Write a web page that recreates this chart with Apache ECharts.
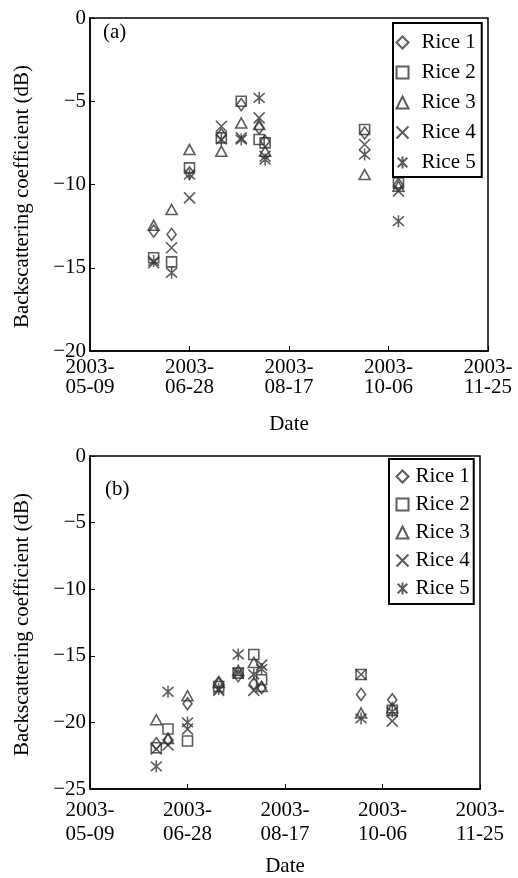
<!DOCTYPE html>
<html>
<head>
<meta charset="utf-8">
<script src="https://cdn.jsdelivr.net/npm/echarts@6/dist/echarts.min.js"></script>
<style>
  html, body { margin: 0; padding: 0; background: #fff; }
  #chart { width: 518px; height: 878px; }
</style>
</head>
<body>
<div id="chart"></div>
<script>
// acquisition dates, panel (a) and panel (b)
const datesA = ['2003-06-10', '2003-06-19', '2003-06-28', '2003-07-14', '2003-07-24', '2003-08-02', '2003-08-05', '2003-09-24', '2003-10-11'];
const datesB = ['2003-06-12', '2003-06-18', '2003-06-28', '2003-07-14', '2003-07-24', '2003-08-01', '2003-08-05', '2003-09-25', '2003-10-11'];

const riceNames = ['Rice 1', 'Rice 2', 'Rice 3', 'Rice 4', 'Rice 5'];

// panel (a), dB
const a1 = [-12.8, -13.0, -9.3, -7.0, -5.2, -6.6, -7.4, -6.9, -10.0];
const a2 = [-14.4, -14.65, -9.0, -7.2, -5.0, -7.3, -7.5, -6.7, -9.9];
const a3 = [-12.45, -11.5, -7.9, -8.0, -6.3, -6.4, -8.0, -9.4, -10.1];
const a4 = [-14.7, -13.8, -10.8, -6.5, -7.2, -6.0, -8.3, -7.6, -10.4];
const a5 = [-14.6, -15.3, -9.4, -7.3, -7.3, -4.8, -8.5, -8.2, -12.2];

// panel (b), dB
const b1 = [-21.6, -21.3, -18.6, -17.0, -16.5, -17.1, -17.4, -17.9, -18.3];
const b2 = [-21.9, -20.5, -21.4, -17.3, -16.3, -14.9, -16.8, -16.4, -19.1];
const b3 = [-19.8, -21.2, -18.0, -17.0, -16.1, -15.5, -17.3, -19.3, -18.9];
const b4 = [-22.0, -21.7, -20.5, -17.6, -16.3, -17.6, -15.7, -16.4, -19.9];
const b5 = [-23.3, -17.7, -20.0, -17.5, -14.9, -16.4, -16.0, -19.7, -19.2];

const yTicksA = [-20, 0, 5];
const yTicksB = [-25, 0, 5];
const xTicks = [0, 200, 50]; // days after 2003-05-09

const ink = '#333';
const serif = 'Liberation Serif';
const fs = 21;
const base = Date.UTC(2003, 4, 9);
const DAY = 86400000;

function dayOf(s) {
  const p = s.split('-');
  return Math.round((Date.UTC(+p[0], +p[1] - 1, +p[2]) - base) / DAY);
}

function dateLabel(v) {
  const d = new Date(base + v * DAY);
  const mm = String(d.getUTCMonth() + 1).padStart(2, '0');
  const dd = String(d.getUTCDate()).padStart(2, '0');
  return d.getUTCFullYear() + '-\n' + mm + '-' + dd;
}

const markers = [
  {symbol: 'diamond', size: [9, 12]},
  {symbol: 'rect', size: [10, 10]},
  {symbol: 'triangle', size: [11, 10]},
  {symbol: 'path://M0,0L10,10M10,0L0,10', size: [11, 11]},
  {symbol: 'path://M1,1L9,9M9,1L1,9M5,0L5,10', size: [11, 12]}
];

function makeSeries(dates, lists, idx) {
  return lists.map((vals, i) => ({
    name: riceNames[i],
    type: 'scatter',
    xAxisIndex: idx,
    yAxisIndex: idx,
    symbol: markers[i].symbol,
    symbolSize: markers[i].size,
    itemStyle: {color: 'none', borderColor: ink, borderWidth: 1.6},
    emphasis: {disabled: true},
    data: dates.map((d, k) => [dayOf(d), vals[k]])
  }));
}

function yAxis(idx, ticks, namePad) {
  return {
    type: 'value',
    gridIndex: idx,
    min: ticks[0], max: ticks[1], interval: ticks[2],
    name: 'Backscattering coefficient (dB)',
    nameLocation: 'middle',
    nameGap: 57,
    nameTextStyle: {fontFamily: serif, fontSize: fs, color: '#000', padding: namePad},
    axisLine: {show: true, onZero: false, lineStyle: {color: '#000', width: 1.5}},
    axisTick: {show: true, inside: true, length: 5, lineStyle: {color: '#000'}},
    axisLabel: {
      fontFamily: serif, fontSize: fs, color: '#000', margin: 4,
      formatter: v => v < 0 ? '\u2212' + Math.abs(v) : String(v)
    },
    splitLine: {show: false}
  };
}

function xAxis(idx, margin, lh, gap) {
  return {
    type: 'value',
    gridIndex: idx,
    min: xTicks[0], max: xTicks[1], interval: xTicks[2],
    name: 'Date',
    nameLocation: 'middle',
    nameGap: gap,
    nameTextStyle: {fontFamily: serif, fontSize: fs, color: '#000'},
    axisLine: {show: true, onZero: false, lineStyle: {color: '#000', width: 1.5}},
    axisTick: {show: true, inside: true, length: 5, lineStyle: {color: '#000'}},
    axisLabel: {
      fontFamily: serif, fontSize: fs, color: '#000', margin: margin, lineHeight: lh,
      formatter: dateLabel
    },
    splitLine: {show: false}
  };
}

function legend(left, top, gap, pad, textPad) {
  return {
    orient: 'vertical',
    left: left, top: top,
    data: riceNames,
    itemWidth: 12, itemHeight: 12, itemGap: gap,
    padding: pad,
    borderColor: '#000', borderWidth: 2,
    textStyle: {fontFamily: serif, fontSize: fs, color: '#000', padding: [0, 0, 0, textPad]}
  };
}

const chart = echarts.init(document.getElementById('chart'), null, {renderer: 'canvas'});
chart.setOption({
  animation: false,
  backgroundColor: '#fff',
  grid: [
    {left: 90, top: 18, width: 398, height: 333, show: true, borderColor: '#000', borderWidth: 1.5},
    {left: 90, top: 456, width: 390, height: 337, show: true, borderColor: '#000', borderWidth: 1.5}
  ],
  xAxis: [xAxis(0, 6, 20, 63), xAxis(1, 9, 24, 67)],
  yAxis: [yAxis(0, yTicksA, [0, 24, 0, 0]), yAxis(1, yTicksB, [0, 4, 0, 0])],
  legend: [
    legend(393, 23, 9, [9, 6, 4, 1], 8),
    legend(389, 459, 7, [7, 4, 5, 5], 2)
  ],
  graphic: [
    {type: 'text', left: 103, top: 22, style: {text: '(a)', font: fs + 'px "Liberation Serif"', fill: '#000'}},
    {type: 'text', left: 105, top: 479, style: {text: '(b)', font: fs + 'px "Liberation Serif"', fill: '#000'}}
  ],
  series: makeSeries(datesA, [a1, a2, a3, a4, a5], 0)
    .concat(makeSeries(datesB, [b1, b2, b3, b4, b5], 1))
});
</script>
</body>
</html>
